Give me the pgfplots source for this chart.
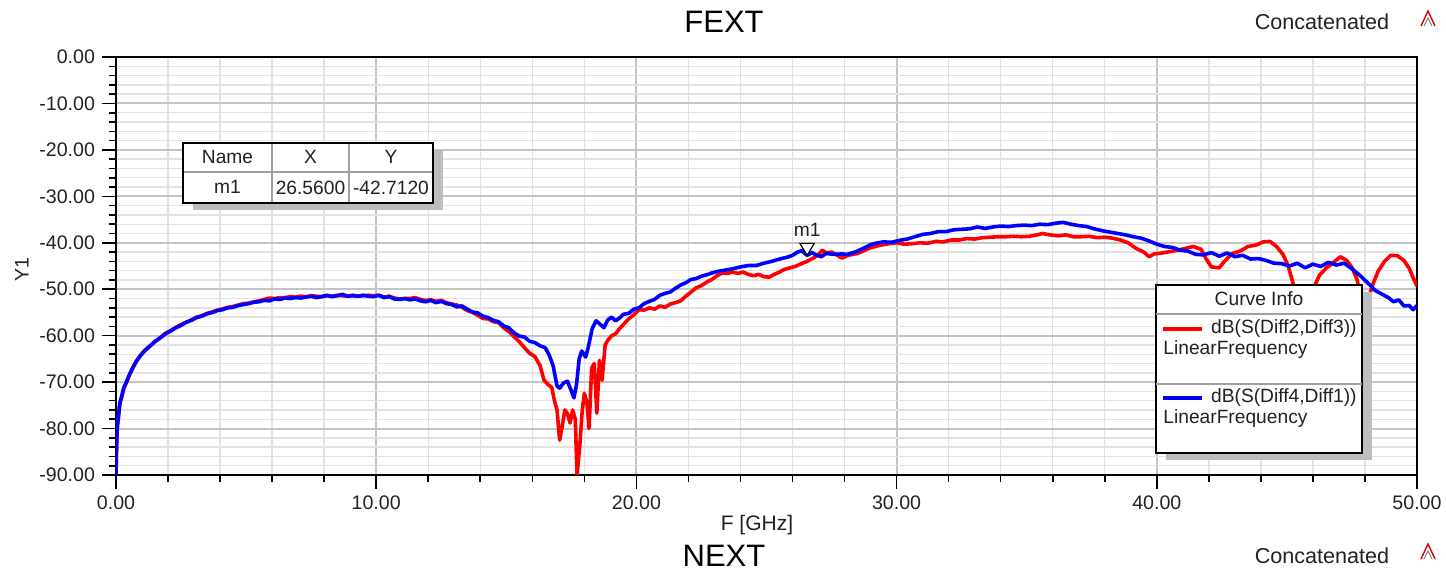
\documentclass[border=0pt]{standalone}
\usepackage{fontspec}
\setmainfont{Liberation Sans}
\usepackage{pgfplots}
\pgfplotsset{compat=1.18}
\definecolor{txt}{HTML}{222222}
\definecolor{majgrid}{HTML}{C4C4C4}
\definecolor{mingrid}{HTML}{E2E2E2}
\definecolor{shadowc}{HTML}{BDBDBD}
\definecolor{sepc}{HTML}{A0A0A0}
\begin{document}
\begin{tikzpicture}[font=\fontsize{9.6}{11}\selectfont, text=txt]
\useasboundingbox (-58pt,-48.5pt) rectangle (665pt,237.5pt);
\begin{axis}[
  scale only axis, width=650.5pt, height=209pt,
  at={(0pt,0pt)}, anchor=south west,
  xmin=0, xmax=50, ymin=-90, ymax=0,
  xtick={0,10,20,30,40,50},
  xticklabels={0.00,10.00,20.00,30.00,40.00,50.00},
  ytick={-90,-80,-70,-60,-50,-40,-30,-20,-10,0},
  yticklabels={-90.00,-80.00,-70.00,-60.00,-50.00,-40.00,-30.00,-20.00,-10.00,0.00},
  minor x tick num=4, minor y tick num=4,
  grid=both,
  major grid style={draw=majgrid, line width=1pt},
  minor grid style={draw=mingrid, line width=0.7pt},
  axis line style={black, line width=1.3pt},
  tick align=outside, xtick pos=left, ytick pos=left,
  major tick length=7pt, minor tick length=3.5pt,
  every tick/.style={black, line width=0.8pt},
  xticklabel style={font=\fontsize{9.8}{11}\selectfont, text=txt},
  yticklabel style={font=\fontsize{9.8}{11}\selectfont, text=txt},
]
\addplot[red, line width=1.8pt, line join=round] coordinates {
(0,-90) (0.02,-84.5) (0.05,-79.8) (0.1,-77.2) (0.15,-74.6) (0.22,-73.2) (0.3,-71.3) (0.4,-70.1)
(0.5,-68.7) (0.6,-67.5) (0.7,-66.4) (0.8,-65.3) (0.95,-64.2) (1.1,-63.2) (1.3,-62.2) (1.5,-61.3)
(1.7,-60.4) (1.9,-59.5) (2.1,-58.9) (2.3,-58.2) (2.5,-57.6) (2.7,-57.1) (2.9,-56.6) (3.1,-56.0)
(3.3,-55.7) (3.5,-55.2) (3.7,-54.9) (3.9,-54.5) (4.1,-54.2) (4.3,-53.9) (4.5,-53.7) (4.7,-53.4)
(4.9,-53.1) (5.1,-53.0) (5.3,-52.7) (5.5,-52.5) (5.7,-52.2) (5.9,-51.9) (6.1,-52.0) (6.3,-51.8)
(6.5,-51.8) (6.7,-51.6) (6.9,-51.7) (7.1,-51.5) (7.3,-51.6) (7.5,-51.4) (7.7,-51.5) (7.9,-51.6)
(8.1,-51.4) (8.3,-51.5) (8.5,-51.3) (8.7,-51.4) (8.9,-51.5) (9.1,-51.3) (9.3,-51.5) (9.5,-51.4)
(9.7,-51.3) (9.9,-51.4) (10.1,-51.3) (10.3,-51.7) (10.5,-51.5) (10.7,-51.9) (10.9,-52.1) (11.1,-52.0)
(11.3,-52.0) (11.5,-51.8) (11.7,-52.2) (11.9,-52.4) (12.1,-52.3) (12.3,-52.6) (12.5,-52.4) (12.7,-52.9)
(12.9,-53.2) (13.1,-53.4) (13.3,-53.9) (13.5,-54.6) (13.7,-55.0) (13.9,-55.6) (14.1,-56.3) (14.3,-56.4)
(14.5,-57.0) (14.7,-57.2) (14.9,-58.3) (15.1,-59.1) (15.3,-60.2) (15.5,-61.3) (15.7,-62.6) (15.9,-63.8)
(16.1,-64.5) (16.3,-66.5) (16.45,-69.6) (16.6,-70.5) (16.75,-71.2) (16.85,-74.0) (16.95,-76.0) (17.05,-82.5)
(17.15,-79.5) (17.25,-76.0) (17.35,-76.8) (17.45,-78.8) (17.55,-76.0) (17.65,-78.0) (17.72,-90.0) (17.82,-84.0)
(17.92,-76.0) (18.0,-72.4) (18.1,-74.5) (18.18,-80.0) (18.28,-67.0) (18.38,-66.0) (18.48,-76.7) (18.58,-65.3)
(18.68,-69.6) (18.8,-62.0) (18.9,-61.0) (19.05,-60.0) (19.2,-59.6) (19.35,-58.5) (19.5,-57.6) (19.7,-56.4)
(19.9,-55.5) (20.1,-54.4) (20.3,-54.5) (20.5,-54.0) (20.7,-54.3) (20.9,-53.6) (21.1,-53.9) (21.3,-53.2)
(21.5,-52.9) (21.7,-52.5) (21.9,-51.5) (22.1,-50.6) (22.3,-49.7) (22.5,-49.2) (22.7,-48.5) (22.9,-47.9)
(23.1,-47.1) (23.3,-46.5) (23.5,-46.6) (23.7,-46.3) (23.9,-46.6) (24.1,-46.3) (24.3,-46.8) (24.5,-47.1)
(24.7,-46.8) (24.9,-47.3) (25.1,-47.4) (25.3,-46.8) (25.5,-46.3) (25.7,-45.7) (25.9,-45.4) (26.1,-45.1)
(26.3,-44.6) (26.56,-44.0) (26.8,-43.3) (27.0,-42.5) (27.15,-41.6) (27.3,-42.2) (27.5,-42.0) (27.7,-42.6)
(27.9,-43.3) (28.1,-42.8) (28.3,-42.5) (28.5,-42.3) (28.7,-41.8) (28.9,-41.3) (29.1,-40.9) (29.4,-40.5)
(29.7,-40.2) (30.0,-40.0) (30.3,-40.3) (30.6,-40.2) (30.9,-40.0) (31.2,-40.1) (31.5,-39.7) (31.8,-39.8)
(32.1,-39.4) (32.4,-39.4) (32.7,-39.1) (33.0,-39.2) (33.3,-38.9) (33.6,-38.8) (33.9,-38.7) (34.2,-38.7)
(34.5,-38.6) (34.8,-38.7) (35.1,-38.6) (35.4,-38.3) (35.6,-38.0) (35.9,-38.3) (36.2,-38.5) (36.5,-38.3)
(36.8,-38.7) (37.1,-38.7) (37.4,-38.6) (37.7,-38.9) (38.0,-38.8) (38.3,-39.0) (38.6,-39.4) (38.9,-40.0)
(39.2,-41.2) (39.5,-42.0) (39.7,-43.0) (39.9,-42.4) (40.2,-42.2) (40.5,-41.9) (40.8,-41.6) (41.1,-41.2)
(41.4,-40.8) (41.7,-41.4) (41.9,-43.5) (42.1,-45.2) (42.4,-45.4) (42.6,-44.0) (42.9,-42.3) (43.2,-41.8)
(43.5,-40.8) (43.8,-40.5) (44.1,-39.8) (44.35,-39.7) (44.6,-40.8) (44.85,-42.5) (45.05,-45.0) (45.25,-49.0)
(45.45,-53.5) (45.65,-55.0) (45.85,-53.0) (46.05,-49.5) (46.25,-47.0) (46.5,-45.5) (46.8,-44.2) (47.05,-43.0)
(47.3,-43.8) (47.5,-45.3) (47.7,-48.0) (47.85,-52.0) (47.95,-54.5) (48.1,-52.5) (48.3,-49.0) (48.5,-46.2)
(48.75,-44.0) (49.0,-42.7) (49.25,-42.8) (49.5,-43.8) (49.7,-45.5) (49.85,-47.5) (50.0,-49.3)
};
\addplot[blue, line width=1.8pt, line join=round] coordinates {
(0,-90) (0.02,-84) (0.05,-79.5) (0.1,-77) (0.15,-74.5) (0.22,-73) (0.3,-71.2) (0.4,-70)
(0.5,-68.6) (0.6,-67.4) (0.7,-66.3) (0.8,-65.4) (0.95,-64.2) (1.1,-63.3) (1.3,-62.3) (1.5,-61.2)
(1.7,-60.5) (1.9,-59.6) (2.1,-59.0) (2.3,-58.3) (2.5,-57.8) (2.7,-57.1) (2.9,-56.7) (3.1,-56.1)
(3.3,-55.8) (3.5,-55.3) (3.7,-55.0) (3.9,-54.6) (4.1,-54.4) (4.3,-54.0) (4.5,-53.9) (4.7,-53.5)
(4.9,-53.3) (5.1,-53.1) (5.3,-52.8) (5.5,-52.7) (5.7,-52.4) (5.9,-52.5) (6.1,-52.1) (6.3,-52.2)
(6.5,-51.9) (6.7,-52.0) (6.9,-51.8) (7.1,-51.9) (7.3,-51.7) (7.5,-51.5) (7.7,-51.8) (7.9,-51.6)
(8.1,-51.3) (8.3,-51.6) (8.5,-51.4) (8.7,-51.1) (8.9,-51.5) (9.1,-51.4) (9.3,-51.5) (9.5,-51.3)
(9.7,-51.5) (9.9,-51.6) (10.1,-51.3) (10.3,-51.8) (10.5,-51.6) (10.7,-52.1) (10.9,-52.2) (11.1,-52.0)
(11.3,-52.3) (11.5,-52.1) (11.7,-52.5) (11.9,-52.7) (12.1,-52.4) (12.3,-52.9) (12.5,-52.6) (12.7,-53.1)
(12.9,-53.3) (13.1,-53.8) (13.3,-53.6) (13.5,-54.3) (13.7,-54.9) (13.9,-55.1) (14.1,-55.8) (14.3,-56.1)
(14.5,-56.7) (14.7,-57.0) (14.9,-57.9) (15.1,-58.3) (15.3,-59.4) (15.5,-60.1) (15.7,-60.3) (15.9,-61.2)
(16.1,-61.5) (16.3,-62.2) (16.5,-62.6) (16.65,-64.2) (16.8,-66.5) (16.95,-70.8) (17.05,-71.3) (17.2,-70.2)
(17.35,-69.8) (17.5,-71.9) (17.6,-73.4) (17.7,-70.5) (17.8,-65.0) (17.9,-63.3) (18.05,-64.6) (18.15,-62.5)
(18.3,-58.5) (18.45,-56.8) (18.6,-57.5) (18.75,-58.3) (18.9,-56.6) (19.05,-56.0) (19.2,-56.8) (19.35,-56.2)
(19.5,-55.4) (19.7,-55.2) (19.9,-54.3) (20.1,-54.0) (20.3,-53.1) (20.5,-52.6) (20.7,-52.2) (20.9,-51.3)
(21.1,-50.9) (21.3,-50.6) (21.5,-49.8) (21.7,-49.1) (21.9,-48.6) (22.1,-47.9) (22.3,-47.7) (22.5,-47.2)
(22.7,-46.9) (22.9,-46.5) (23.1,-46.2) (23.4,-45.9) (23.7,-45.6) (24.0,-45.2) (24.3,-44.9) (24.6,-44.9)
(24.9,-44.4) (25.2,-44.0) (25.5,-43.5) (25.8,-43.1) (26.0,-42.7) (26.2,-42.0) (26.35,-41.7) (26.56,-42.7)
(26.75,-42.1) (26.9,-42.6) (27.1,-43.0) (27.3,-42.3) (27.6,-42.5) (27.9,-42.4) (28.1,-42.5) (28.4,-42.0)
(28.6,-41.5) (28.8,-41.0) (29.0,-40.4) (29.2,-40.1) (29.5,-39.8) (29.8,-39.9) (30.1,-39.5) (30.4,-39.2)
(30.7,-38.7) (31.0,-38.2) (31.3,-38.0) (31.6,-37.6) (31.9,-37.6) (32.2,-37.2) (32.5,-37.1) (32.8,-37.0)
(33.1,-36.6) (33.4,-36.9) (33.7,-36.6) (34.0,-36.4) (34.3,-36.5) (34.6,-36.3) (34.9,-36.2) (35.2,-36.3)
(35.5,-36.0) (35.8,-36.1) (36.1,-35.8) (36.4,-35.6) (36.7,-36.0) (37.0,-36.3) (37.3,-36.5) (37.6,-37.0)
(37.9,-37.4) (38.2,-37.7) (38.5,-38.0) (38.8,-38.3) (39.1,-38.7) (39.4,-39.0) (39.7,-39.6) (40.0,-40.3)
(40.3,-40.8) (40.6,-41.0) (40.9,-41.6) (41.2,-41.8) (41.5,-42.5) (41.8,-42.6) (42.1,-42.1) (42.4,-42.9)
(42.7,-42.2) (43.0,-43.0) (43.3,-42.7) (43.6,-43.5) (43.9,-43.4) (44.2,-43.8) (44.5,-44.4) (44.8,-44.5)
(45.1,-45.0) (45.4,-44.4) (45.7,-45.4) (46.0,-44.6) (46.3,-45.1) (46.6,-44.2) (46.9,-44.8) (47.2,-44.4)
(47.5,-45.6) (47.8,-47.0) (48.1,-48.6) (48.4,-50.3) (48.7,-51.2) (48.9,-51.8) (49.1,-52.7) (49.3,-52.3)
(49.5,-53.6) (49.7,-53.5) (49.85,-54.4) (50.0,-53.5)
};
% marker m1
\draw[black, line width=0.6pt, fill=white] (axis cs:26.56,-42.712) -- ++(-3.6pt,6pt) -- ++(7.2pt,0pt) -- cycle;
\node[font=\fontsize{9.6}{11}\selectfont, text=txt] at ([yshift=12.5pt]axis cs:26.56,-42.712) {m1};
\end{axis}
% titles
\node[font=\fontsize{15.5}{17}\selectfont, text=black] at (304pt,226.5pt) {FEXT};
\node[font=\fontsize{10.8}{12}\selectfont, text=txt] at (603pt,226.5pt) {Concatenated};
\node[font=\fontsize{15.5}{17}\selectfont, text=black] at (304pt,-40.5pt) {NEXT};
\node[font=\fontsize{10.8}{12}\selectfont, text=txt] at (603pt,-40.5pt) {Concatenated};
\foreach \yy in {228.5,-38} {
  \draw[red!85!black, line width=0.7pt] (652.5pt,\yy pt-4pt) -- (656pt,\yy pt+3.5pt) -- (659.5pt,\yy pt-4pt);
  \draw[gray, line width=0.5pt] (654pt,\yy pt-4pt) -- (656pt,\yy pt) -- (658pt,\yy pt-4pt);
}
\node[font=\fontsize{10.5}{12}\selectfont, text=txt] at (320.5pt,-25pt) {F [GHz]};
\node[font=\fontsize{9.8}{11}\selectfont, text=txt, rotate=90] at (-47pt,102.5pt) {Y1};
% marker table
\fill[shadowc] (38.5pt,162.5pt) rectangle (163.5pt,132.5pt);
\draw[black, line width=0.8pt, fill=white] (33.5pt,166pt) rectangle (158.5pt,136pt);
\draw[sepc, line width=0.6pt] (78pt,166pt) -- (78pt,136pt) (116.5pt,166pt) -- (116.5pt,136pt) (33.5pt,151.5pt) -- (158.5pt,151.5pt);
\draw[black, line width=0.8pt] (33.5pt,166pt) rectangle (158.5pt,136pt);
\node at (55.75pt,158.8pt) {Name};
\node at (97.25pt,158.8pt) {X};
\node at (137.5pt,158.8pt) {Y};
\node at (55.75pt,143.8pt) {m1};
\node at (97.25pt,143.8pt) {26.5600};
\node at (137.5pt,143.8pt) {-42.7120};
% curve info legend
\fill[shadowc] (525pt,91.5pt) rectangle (628pt,7.5pt);
\draw[black, line width=0.8pt, fill=white] (520pt,95pt) rectangle (623pt,11pt);
\node at (571.5pt,88pt) {Curve Info};
\draw[sepc, line width=0.6pt] (520pt,80.5pt) -- (623pt,80.5pt);
\draw[sepc, line width=0.6pt] (520pt,45.5pt) -- (623pt,45.5pt);
\draw[red, line width=1.8pt] (523.5pt,73pt) -- (543pt,73pt);
\node[anchor=east, inner sep=0pt] at (620.5pt,73pt) {dB(S(Diff2,Diff3))};
\node[anchor=west, inner sep=0pt] at (523.5pt,62.5pt) {LinearFrequency};
\draw[blue, line width=1.8pt] (523.5pt,38.5pt) -- (543pt,38.5pt);
\node[anchor=east, inner sep=0pt] at (620.5pt,38.5pt) {dB(S(Diff4,Diff1))};
\node[anchor=west, inner sep=0pt] at (523.5pt,28pt) {LinearFrequency};
\end{tikzpicture}
\end{document}
